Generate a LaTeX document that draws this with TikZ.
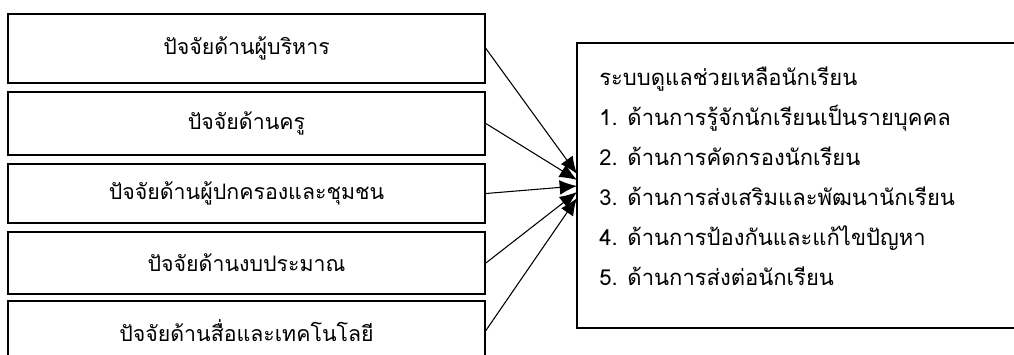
\documentclass[tikz,border=0pt]{standalone}
\usepackage{fontspec}
\newfontfamily\thaifont[Script=Thai]{Loma}
\usetikzlibrary{arrows.meta}
\begin{document}
\begin{tikzpicture}[x=0.75pt,y=-0.75pt,
  factor/.style={draw, line width=1.3pt, minimum width=357.75pt, inner sep=0pt,
    font=\thaifont\fontsize{16}{18}\selectfont},
  sysbox/.style={draw, line width=1.3pt, minimum width=339.75pt, minimum height=213.75pt, inner sep=0pt},
  systext/.style={align=left, anchor=north west, inner sep=0pt,
    font=\thaifont\fontsize{16.5}{30}\selectfont},
  conn/.style={line width=0.8pt, -{Latex[length=13pt,width=11pt]}}]
\useasboundingbox (0,0) rectangle (1014,354);
\clip (0,0) rectangle (1014,354);
\fill[white] (0,0) rectangle (1014,354);
\node[factor, minimum height=51.75pt] (b1) at (246.5,48.5) {ปัจจัยด้านผู้บริหาร};
\node[factor, minimum height=47.25pt] (b2) at (246.5,123.5) {ปัจจัยด้านครู};
\node[factor, minimum height=44.25pt] (b3) at (246.5,193.5) {ปัจจัยด้านผู้ปกครองและชุมชน};
\node[factor, minimum height=46.5pt] (b4) at (246.5,263) {ปัจจัยด้านงบประมาณ};
\node[factor, minimum height=44.25pt] (b5) at (246.5,330.5) {ปัจจัยด้านสื่อและเทคโนโลยี};
\node[sysbox] (sys) at (803.5,185.5) {};
\node[systext] (st) at (599,67) {ระบบดูแลช่วยเหลือนักเรียน\\
1. ด้านการรู้จักนักเรียนเป็นรายบุคคล\\
2. ด้านการคัดกรองนักเรียน\\
3. ด้านการส่งเสริมและพัฒนานักเรียน\\
4. ด้านการป้องกันและแก้ไขปัญหา\\
5. ด้านการส่งต่อนักเรียน};
\coordinate (t1) at (577,174);
\coordinate (t2) at (577,180);
\coordinate (t3) at (577,186);
\coordinate (t4) at (577,192);
\coordinate (t5) at (577,198);
\draw[conn] (b1.east) -- (t1);
\draw[conn] (b2.east) -- (t2);
\draw[conn] (b3.east) -- (t3);
\draw[conn] (b4.east) -- (t4);
\draw[conn] (b5.east) -- (t5);
\end{tikzpicture}
\end{document}
